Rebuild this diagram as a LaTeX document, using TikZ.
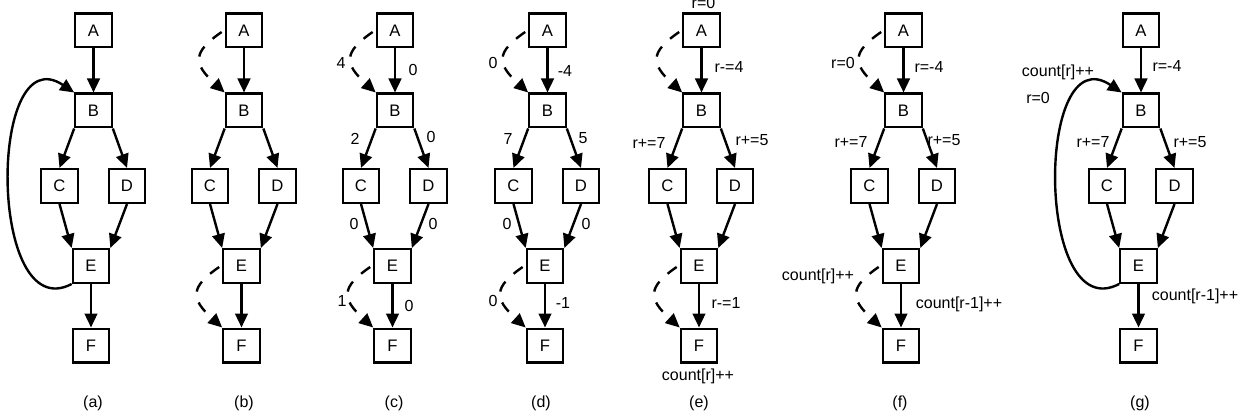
\documentclass[tikz,border=0pt]{standalone}
\usepackage{fontspec}
\setmainfont{Liberation Sans}
\usetikzlibrary{arrows.meta,calc}
\begin{document}
\begin{tikzpicture}[x=0.75pt,y=-0.75pt,
  box/.style={draw, line width=1.7pt, minimum width=27.3pt, minimum height=25.3pt, inner sep=0pt, font=\fontsize{12.5}{14}\selectfont},
  edge/.style={line width=1.8pt, -{Triangle[length=10.5pt,width=9.5pt]}},
  back/.style={edge, dash pattern=on 8.5pt off 8.5pt},
  lab/.style={font=\fontsize{12}{14}\selectfont, inner sep=0pt}]
\useasboundingbox (0,0) rectangle (1248,417);
\newcommand\mkpanel[3]{%
  \node[box] (#1A) at (#2,30.5) {A};
  \node[box] (#1B) at (#2,110.5) {B};
  \node[box] (#1C) at (#2-34,186) {C};
  \node[box] (#1D) at (#2+33.5,186) {D};
  \node[box] (#1E) at (#2-2.5,266) {E};
  \node[box] (#1F) at (#2-2.5,345.5) {F};
  \draw[edge] (#1A.south) -- (#1B.north);
  \draw[edge] (#1B.south west) -- (#1C.north);
  \draw[edge] (#1B.south east) -- (#1D.north);
  \draw[edge] (#1C.south) -- (#1E.north west);
  \draw[edge] (#1D.south) -- (#1E.north east);
  \draw[edge] (#1E.south) -- (#1F.north);
  \node[lab] (#1cap) at (#3,403) {(#1)};
}
\newcommand\mkloop[1]{%
  \draw[edge] (#1E.south west) .. controls ($(#1E.south west)+(-84,44)$) and ($(#1B.north west)+(-86.5,-58)$) .. (#1B.north west);
}
\newcommand\mkdash[1]{%
  \coordinate (#1s1) at ($(#1A.west)+(-3,1.5)$);
  \coordinate (#1s2) at ($(#1E.west)+(-3,1)$);
  \draw[back] (#1s1) .. controls ($(#1s1)+(-29,20)$) and ($(#1B.north west)+(-32,-29)$) .. (#1B.north west);
  \draw[back] (#1s2) .. controls ($(#1s2)+(-29,20)$) and ($(#1F.north west)+(-32,-29)$) .. (#1F.north west);
}
% (a)
\mkpanel{a}{93.5}{93}
\mkloop{a}
% (b)
\mkpanel{b}{244}{244}
\mkdash{b}
% (c)
\mkpanel{c}{395}{394}
\mkdash{c}
\node[lab] (c1) at (341,63) {4};
\node[lab] (c2) at (413,70) {0};
\node[lab] (c3) at (355,139) {2};
\node[lab] (c4) at (431,137) {0};
\node[lab] (c5) at (354,224) {0};
\node[lab] (c6) at (433,224) {0};
\node[lab] (c7) at (342,301) {1};
\node[lab] (c8) at (409,306) {0};
% (d)
\mkpanel{d}{547.5}{541}
\mkdash{d}
\node[lab] (d1) at (493,63) {0};
\node[lab] (d2) at (565,71) {-4};
\node[lab] (d3) at (508,139) {7};
\node[lab] (d4) at (583,138) {5};
\node[lab] (d5) at (507,224) {0};
\node[lab] (d6) at (586,224) {0};
\node[lab] (d7) at (493,301) {0};
\node[lab] (d8) at (563,303) {-1};
% (e)
\mkpanel{e}{701.5}{699}
\mkdash{e}
\node[lab] (e1) at (703.5,3) {r=0};
\node[lab] (e2) at (729,67) {r-=4};
\node[lab] (e3) at (649,143) {r+=7};
\node[lab] (e4) at (752,140) {r+=5};
\node[lab] (e5) at (726,303) {r-=1};
\node[lab] (e6) at (698,376) {count[r]++};
% (f)
\mkpanel{f}{903.5}{900}
\mkdash{f}
\node[lab] (f1) at (843,63) {r=0};
\node[lab] (f2) at (929,67) {r=-4};
\node[lab] (f3) at (851,142) {r+=7};
\node[lab] (f4) at (944,140) {r+=5};
\node[lab] (f5) at (818,276) {count[r]++};
\node[lab] (f6) at (959,304) {count[r-1]++};
% (g)
\mkpanel{g}{1141}{1140}
\mkloop{g}
\node[lab] (g1) at (1167,66) {r=-4};
\node[lab] (g2) at (1058,72) {count[r]++};
\node[lab, anchor=west] (g3) at (1026,98) {r=0};
\node[lab] (g4) at (1093,142) {r+=7};
\node[lab] (g5) at (1190,142) {r+=5};
\node[lab] (g6) at (1195,296) {count[r-1]++};
\end{tikzpicture}
\end{document}
